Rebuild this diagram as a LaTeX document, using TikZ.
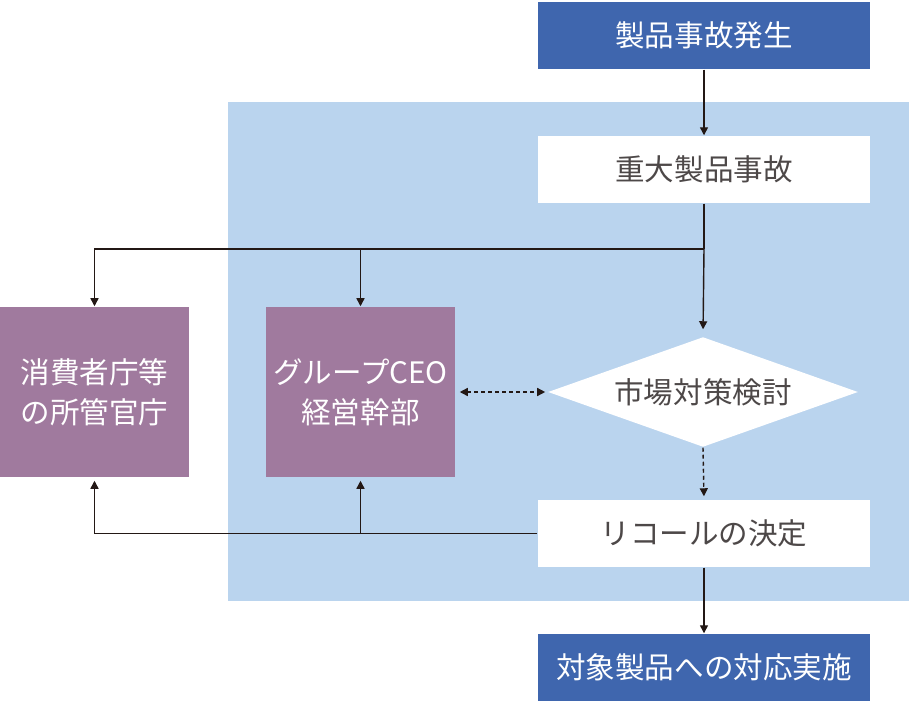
\documentclass[tikz,border=0pt]{standalone}
\usepackage{fontspec}
\setmainfont{Noto Sans CJK JP}
\usepackage{tikz}
\usetikzlibrary{shapes.geometric,arrows.meta}
\definecolor{darkblue}{RGB}{63,102,174}
\definecolor{paleblue}{RGB}{186,212,238}
\definecolor{mauve}{RGB}{160,122,158}
\definecolor{inkgray}{RGB}{77,72,72}
\definecolor{linegray}{RGB}{35,24,21}
\tikzstyle{box}=[rectangle, inner sep=0pt, minimum width=3.32cm, minimum height=0.67cm]
\tikzstyle{mainbox}=[box, fill=darkblue, text=white]
\tikzstyle{stepbox}=[box, fill=white, text=inkgray]
\tikzstyle{party}=[rectangle, inner sep=0pt, minimum width=1.89cm, minimum height=1.70cm,
  fill=mauve, text=white, align=center]
\tikzstyle{decide}=[diamond, aspect=2.8, inner sep=0pt, minimum width=3.1cm,
  minimum height=1.1cm, fill=white, text=inkgray]
\tikzstyle{link}=[line width=0.4pt, color=linegray, -{Triangle[length=0.8mm,width=0.8mm]}]
\tikzstyle{fine}=[dash pattern=on 0.04cm off 0.03cm]

\begin{document}
\begin{tikzpicture}[x=0.01cm, y=-0.01cm, font=\fontsize{8.4}{11.4}\selectfont]
    \useasboundingbox (0,0) rectangle (909,703);
    % light blue field behind the company steps
    \fill[paleblue] (228,102) rectangle (909,601);

    % flow boxes
    \node[mainbox] (accident) at (704,35.5) {製品事故発生};
    \node[stepbox] (serious) at (704,169.5) {重大製品事故};
    \node[decide] (study) at (703,392) {市場対策検討};
    \node[stepbox] (recall) at (704,533.5) {リコールの決定};
    \node[mainbox] (action) at (704,667.5) {対象製品への対応実施};

    % parties informed
    \node[party] (agency) at (94.5,392) {消費者庁等\\の所管官庁};
    \node[party] (ceo) at (360.5,392) {グループCEO\\経営幹部};

    % connectors
    \coordinate (split) at (704,249);
    \draw[link] (accident) -- (serious);
    \draw[line width=0.4pt, color=linegray] (serious.south) -- (split);
    \draw[link, shorten >=0.07cm] (split) -- (study.north);
    \draw[link] (split) -| (agency.north);
    \draw[link] (ceo.north |- split) -- (ceo.north);
    \draw[link, fine, {Triangle[length=0.8mm,width=0.8mm]}-{Triangle[length=0.8mm,width=0.8mm]},
      shorten <=0.04cm, shorten >=0.02cm] (ceo.east) -- (study.west);
    \draw[link, fine, shorten >=0.03cm] (study.south) -- (recall.north);
    \draw[link, shorten >=0.03cm] (recall.west) -| (agency.south);
    \draw[link, shorten >=0.03cm] (ceo.south |- recall.west) -- (ceo.south);
    \draw[link] (recall) -- (action);
\end{tikzpicture}
\end{document}
